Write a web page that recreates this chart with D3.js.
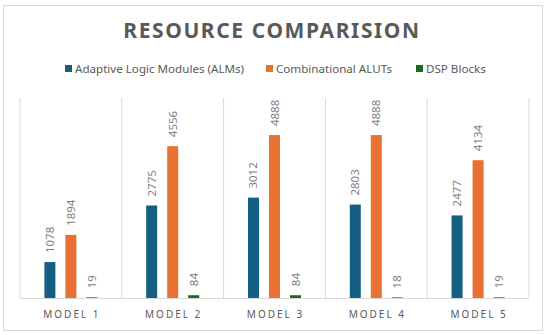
<!DOCTYPE html>
<html>
<head>
<meta charset="utf-8">
<script src="https://cdn.jsdelivr.net/npm/d3@7"></script>
<style>
  body { margin: 0; background: #fff; }
  text { font-family: "Noto Sans", "Open Sans", sans-serif; }
</style>
</head>
<body>
<script>
const width = 550;
const height = 335;

const models = ["MODEL 1", "MODEL 2", "MODEL 3", "MODEL 4", "MODEL 5"];
const seriesNames = ["Adaptive Logic Modules (ALMs)", "Combinational ALUTs", "DSP Blocks"];
const alms = [1078, 2775, 3012, 2803, 2477];
const aluts = [1894, 4556, 4888, 4888, 4134];
const dsp = [19, 84, 84, 18, 19];
const colors = ["#156082", "#E97132", "#196B24"];

const values = [alms, aluts, dsp];
const rows = models.map((m, i) => ({
    model: m,
    vals: seriesNames.map((s, j) => ({ key: s, value: values[j][i] }))
}));

const svg = d3.select("body").append("svg")
    .attr("width", width)
    .attr("height", height);

// chart border
svg.append("rect")
    .attr("x", 3.5).attr("y", 5.5)
    .attr("width", 539).attr("height", 325)
    .attr("fill", "#fff")
    .attr("stroke", "#d9d9d9");

const plot = { left: 20, right: 529, top: 98, bottom: 298 };

const x0 = d3.scaleBand()
    .domain(models)
    .range([plot.left, plot.right]);

const x1 = d3.scaleBand()
    .domain(seriesNames)
    .range([0, x0.bandwidth()])
    .paddingInner(0.476)
    .paddingOuter(1.16);

const y = d3.scaleLinear()
    .domain([0, 6000])
    .range([plot.bottom, plot.top]);

// category separators
svg.append("g")
    .selectAll("line")
    .data(models.concat(["end"]))
    .enter()
    .append("line")
    .attr("x1", (d, i) => i < models.length ? x0(d) : plot.right)
    .attr("x2", (d, i) => i < models.length ? x0(d) : plot.right)
    .attr("y1", plot.top)
    .attr("y2", plot.bottom)
    .style("stroke", "#d9d9d9")
    .style("stroke-width", 1);

const groups = svg.append("g")
    .selectAll("g")
    .data(rows)
    .enter()
    .append("g")
    .attr("transform", d => `translate(${x0(d.model)},0)`);

groups.selectAll("rect")
    .data(d => d.vals)
    .enter()
    .append("rect")
    .attr("x", d => x1(d.key))
    .attr("y", d => y(d.value))
    .attr("width", x1.bandwidth())
    .attr("height", d => y(0) - y(d.value))
    .style("fill", (d, i) => colors[i]);

groups.selectAll("text")
    .data(d => d.vals)
    .enter()
    .append("text")
    .attr("transform", d => `translate(${x1(d.key) + x1.bandwidth() / 2 + 4},${y(d.value) - 9}) rotate(-90)`)
    .style("font-size", "11.5px")
    .style("fill", "#7f7f7f")
    .style("text-anchor", "start")
    .text(d => d.value);

// baseline
svg.append("line")
    .attr("x1", plot.left).attr("x2", plot.right)
    .attr("y1", plot.bottom + 0.5).attr("y2", plot.bottom + 0.5)
    .style("stroke", "#d9d9d9");

// category labels
svg.append("g")
    .selectAll("text")
    .data(models)
    .enter()
    .append("text")
    .attr("x", d => x0(d) + x0.bandwidth() / 2 + 1)
    .attr("y", 318)
    .style("font-size", "10px")
    .style("letter-spacing", "2px")
    .style("fill", "#595959")
    .style("text-anchor", "middle")
    .text(d => d);

// title
svg.append("text")
    .attr("x", 272)
    .attr("y", 38)
    .text("RESOURCE COMPARISION")
    .style("font-size", "21px")
    .style("font-weight", "bold")
    .style("letter-spacing", "1.6px")
    .style("fill", "#595959")
    .style("text-anchor", "middle");

// legend
const legendX = [65, 266, 416];
const legend = svg.append("g")
    .selectAll("g")
    .data(seriesNames)
    .enter()
    .append("g")
    .attr("transform", (d, i) => `translate(${legendX[i]},65)`);

legend.append("rect")
    .attr("width", 7).attr("height", 7)
    .style("fill", (d, i) => colors[i]);

legend.append("text")
    .attr("x", 10)
    .attr("y", 8)
    .style("font-size", "11.6px")
    .style("fill", "#595959")
    .text(d => d);
</script>
</body>
</html>
